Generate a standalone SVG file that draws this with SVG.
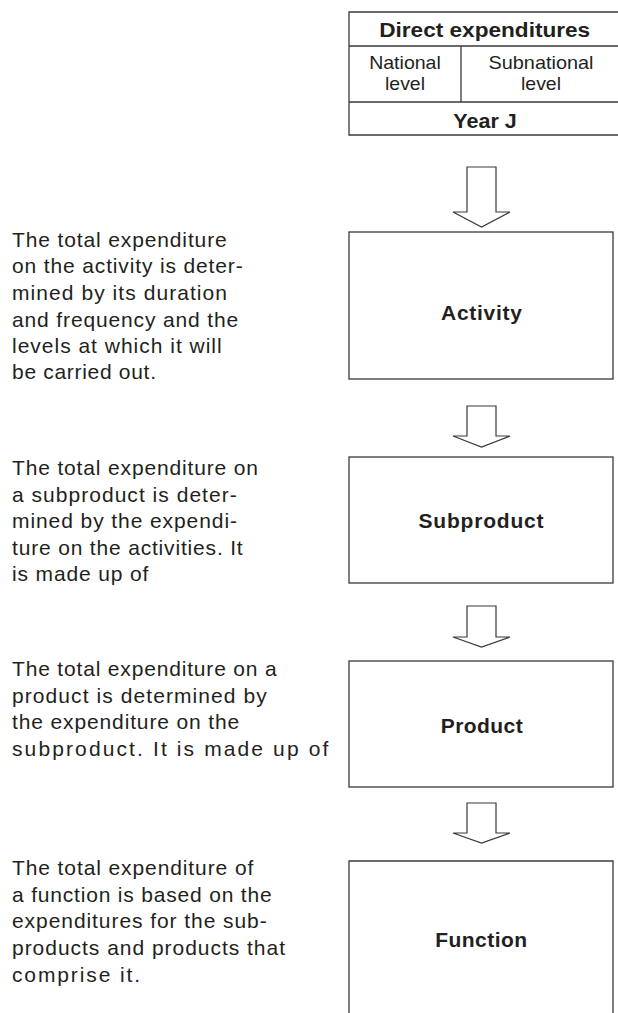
<svg xmlns="http://www.w3.org/2000/svg" width="618" height="1013" viewBox="0 0 618 1013">
<style>
  .bg { fill: #ffffff; }
  .box { fill: none; stroke: #3a3a3a; stroke-width: 1.3; }
  .arrow { fill: #ffffff; stroke: #3a3a3a; stroke-width: 1.2; stroke-linejoin: miter; }
  .para { font-family: "Liberation Sans", Arial, sans-serif; font-size: 21px; fill: #231f20; }
  .lbl { font-family: "Liberation Sans", Arial, sans-serif; font-size: 21px; font-weight: bold; fill: #231f20; text-anchor: middle; }
  .thead { font-family: "Liberation Sans", Arial, sans-serif; font-size: 20px; font-weight: bold; fill: #231f20; text-anchor: middle; }
  .tcell { font-family: "Liberation Sans", Arial, sans-serif; font-size: 18.5px; fill: #231f20; text-anchor: middle; }
</style>
<rect class="bg" x="0" y="0" width="618" height="1013"/>

<g id="table">
  <path class="box" d="M620,12 H349 V135 H620 M349,46 H620 M349,102 H620 M461,46 V102"/>
  <text class="thead" x="484.7" y="36.5" textLength="211" lengthAdjust="spacingAndGlyphs">Direct expenditures</text>
  <text class="tcell" x="405" y="69" textLength="71.7" lengthAdjust="spacingAndGlyphs">National</text>
  <text class="tcell" x="405" y="90" textLength="40" lengthAdjust="spacingAndGlyphs">level</text>
  <text class="tcell" x="541" y="69" textLength="105" lengthAdjust="spacingAndGlyphs">Subnational</text>
  <text class="tcell" x="541" y="90" textLength="40" lengthAdjust="spacingAndGlyphs">level</text>
  <text class="thead" x="485" y="128.3" textLength="63.4" lengthAdjust="spacingAndGlyphs">Year J</text>
</g>

<g id="connectors">
  <path class="arrow" d="M467,167 H496 V212 H510 L481.5,227 L453,212 H467 Z"/>
  <path class="arrow" d="M467,406 H496 V436 H510 L481.5,447 L453,436 H467 Z"/>
  <path class="arrow" d="M467,606 H496 V637 H510 L481.5,647 L453,637 H467 Z"/>
  <path class="arrow" d="M467,803 H496 V833 H510 L481.5,843 L453,833 H467 Z"/>
</g>

<g id="activity">
  <rect class="box" x="349" y="232" width="264" height="147"/>
  <text class="lbl" x="481.5" y="320" textLength="81" lengthAdjust="spacing">Activity</text>
</g>
<g id="subproduct">
  <rect class="box" x="349" y="457" width="264" height="126"/>
  <text class="lbl" x="481" y="528.3" textLength="125" lengthAdjust="spacing">Subproduct</text>
</g>
<g id="product">
  <rect class="box" x="349" y="661" width="264" height="126"/>
  <text class="lbl" x="481.7" y="733.3" textLength="82" lengthAdjust="spacing">Product</text>
</g>
<g id="function">
  <path class="box" d="M349,1020 V861 H613 V1020"/>
  <text class="lbl" x="481.2" y="946.7" textLength="92" lengthAdjust="spacing">Function</text>
</g>

<g id="text-activity" class="para">
  <text x="12" y="246.7" textLength="214.7" lengthAdjust="spacing">The total expenditure</text>
  <text x="12" y="273.3" textLength="230.7" lengthAdjust="spacing">on the activity is deter-</text>
  <text x="12" y="300" textLength="215" lengthAdjust="spacing">mined by its duration</text>
  <text x="12" y="326.7" textLength="226.3" lengthAdjust="spacing">and frequency and the</text>
  <text x="12" y="352.9" textLength="209.7" lengthAdjust="spacing">levels at which it will</text>
  <text x="12" y="379.3" textLength="144" lengthAdjust="spacing">be carried out.</text>
</g>
<g id="text-subproduct" class="para">
  <text x="12" y="475" textLength="246" lengthAdjust="spacing">The total expenditure on</text>
  <text x="12" y="501.7" textLength="224.7" lengthAdjust="spacing">a subproduct is deter-</text>
  <text x="12" y="528.3" textLength="225" lengthAdjust="spacing">mined by the expendi-</text>
  <text x="12" y="555" textLength="230.7" lengthAdjust="spacing">ture on the activities. It</text>
  <text x="12" y="581.3" textLength="136.3" lengthAdjust="spacing">is made up of</text>
</g>
<g id="text-product" class="para">
  <text x="12" y="676" textLength="264.7" lengthAdjust="spacing">The total expenditure on a</text>
  <text x="12" y="702.7" textLength="254.7" lengthAdjust="spacing">product is determined by</text>
  <text x="12" y="729.3" textLength="227.3" lengthAdjust="spacing">the expenditure on the</text>
  <text x="12" y="756" textLength="316.3" lengthAdjust="spacing">subproduct. It is made up of</text>
</g>
<g id="text-function" class="para">
  <text x="12" y="875" textLength="241.3" lengthAdjust="spacing">The total expenditure of</text>
  <text x="12" y="901.7" textLength="259.7" lengthAdjust="spacing">a function is based on the</text>
  <text x="12" y="928.3" textLength="254.7" lengthAdjust="spacing">expenditures for the sub-</text>
  <text x="12" y="955" textLength="273" lengthAdjust="spacing">products and products that</text>
  <text x="12" y="981.7" textLength="128" lengthAdjust="spacing">comprise it.</text>
</g>
</svg>
